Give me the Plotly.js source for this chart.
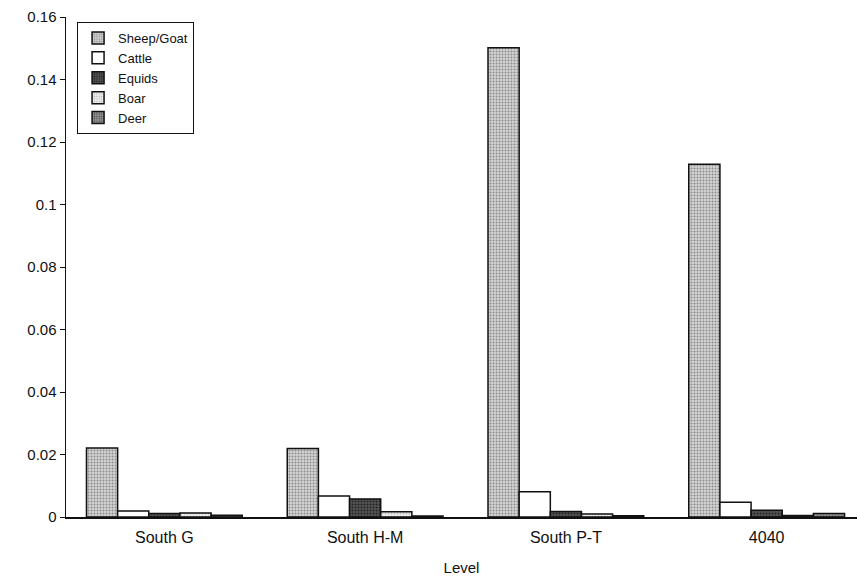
<!DOCTYPE html>
<html>
<head>
<meta charset="utf-8">
<script src="https://cdn.plot.ly/plotly-3.0.1.min.js"></script>
<style>html,body{margin:0;padding:0;background:#fff;}#chart{width:860px;height:578px;}</style>
</head>
<body>
<div id="chart"></div>
<script>
const categories = ["South G", "South H-M", "South P-T", "4040"];
const seriesNames = ["Sheep/Goat", "Cattle", "Equids", "Boar", "Deer"];
const sheepGoat = [0.0221, 0.0219, 0.1502, 0.1129];
const cattle = [0.0019, 0.0067, 0.0081, 0.0047];
const equids = [0.0011, 0.0058, 0.0018, 0.0022];
const boar = [0.0013, 0.0017, 0.0010, 0.0005];
const deer = [0.0006, 0.0003, 0.0004, 0.0011];
const yTickVals = [0, 0.02, 0.04, 0.06, 0.08, 0.1, 0.12, 0.14, 0.16];
const yTickText = ["0", "0.02", "0.04", "0.06", "0.08", "0.1", "0.12", "0.14", "0.16"];

const values = [sheepGoat, cattle, equids, boar, deer];
const fills = [
  {bg: "#d4d4d4", fg: "#8c8c8c", shape: "."},
  {bg: "#ffffff", fg: "#ffffff", shape: ""},
  {bg: "#555555", fg: "#222222", shape: "."},
  {bg: "#f2f2f2", fg: "#bbbbbb", shape: "."},
  {bg: "#9a9a9a", fg: "#444444", shape: "."}
];

const traces = seriesNames.map((name, i) => ({
  type: "bar",
  name: name,
  x: categories,
  y: values[i],
  marker: {
    color: fills[i].bg,
    line: {color: "#111", width: 1.5},
    pattern: {shape: fills[i].shape, bgcolor: fills[i].bg, fgcolor: fills[i].fg, size: 3, solidity: 0.35}
  },
  hoverinfo: "x+y+name"
}));

const font = "Liberation Sans, Arial, Helvetica, sans-serif";
const layout = {
  width: 860,
  height: 578,
  margin: {l: 66, r: 3, t: 17, b: 61},
  paper_bgcolor: "#fff",
  plot_bgcolor: "#fff",
  barmode: "group",
  bargap: 0.224,
  bargroupgap: 0,
  font: {family: font, color: "#111", size: 15},
  showlegend: true,
  legend: {
    x: 0.014, y: 0.99, xanchor: "left", yanchor: "top",
    bgcolor: "#fff", bordercolor: "#111", borderwidth: 1,
    font: {family: font, size: 13, color: "#111"},
    itemwidth: 30, tracegroupgap: 0
  },
  xaxis: {
    type: "category",
    range: [-0.49, 3.45],
    showline: true, linecolor: "#111", linewidth: 1.5,
    ticks: "", showgrid: false, zeroline: false,
    ticklabelstandoff: 5,
    tickfont: {family: font, size: 16, color: "#111"},
    title: {text: "Level", font: {family: font, size: 15, color: "#111"}, standoff: 18}
  },
  yaxis: {
    range: [0, 0.16],
    tickvals: yTickVals, ticktext: yTickText,
    showline: true, linecolor: "#111", linewidth: 1.5,
    ticks: "outside", ticklen: 5, tickcolor: "#111", tickwidth: 1,
    showgrid: false, zeroline: false,
    tickfont: {family: font, size: 15, color: "#111"}
  }
};

Plotly.newPlot("chart", traces, layout, {displayModeBar: false, staticPlot: true});
</script>
</body>
</html>
